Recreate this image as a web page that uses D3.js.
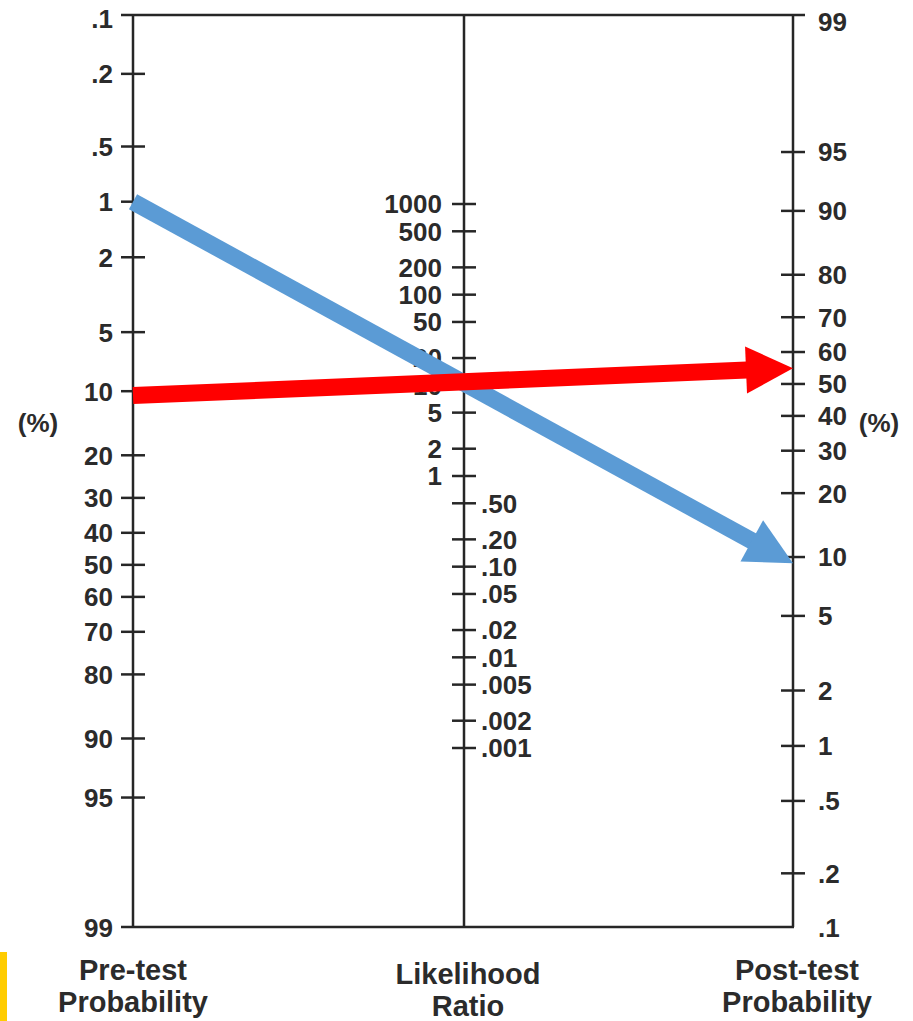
<!DOCTYPE html>
<html>
<head>
<meta charset="utf-8">
<script src="https://cdn.jsdelivr.net/npm/d3@7"></script>
<style>
  body { margin: 0; background: #fff; }
  svg text { font-family: "Liberation Sans", Arial, sans-serif; font-weight: bold; fill: #2b2b2b; }
</style>
</head>
<body>
<div id="nomogram"></div>
<script>
// probability scales (percent)
const preTestTicks = [0.1, 0.2, 0.5, 1, 2, 5, 10, 20, 30, 40, 50, 60, 70, 80, 90, 95, 99];
const postTestTicks = [99, 95, 90, 80, 70, 60, 50, 40, 30, 20, 10, 5, 2, 1, 0.5, 0.2, 0.1];
// likelihood ratio scale
const lrTicksHigh = [1000, 500, 200, 100, 50, 20, 10, 5, 2, 1];
const lrTicksLow = [0.5, 0.2, 0.1, 0.05, 0.02, 0.01, 0.005, 0.002, 0.001];
const lrLabelsLow = [".50", ".20", ".10", ".05", ".02", ".01", ".005", ".002", ".001"];

// the two example lines (blue drawn first, red on top)
const arrowNames = ["blue", "red"];
const arrowPre = [1, 10.5];
const arrowPost = [9.3, 55];
const arrowColors = ["#5b9bd5", "#ff0000"];

const W = 913, H = 1021;
const yTop = 15, yBottom = 927;
const xLeft = 133, xMid = 464, xRight = 793;
const ink = "#262626";
const tickFont = "26px";

const logit = p => Math.log(p / (100 - p));
const probLabel = v => v < 1 ? String(v).replace(/^0/, "") : String(v);

let yPre = d3.scaleLinear().domain([logit(0.1), logit(99)]).range([19, 928]);
let yPost = d3.scaleLinear().domain([logit(99), logit(0.1)]).range([22, 928]);
let yLR = d3.scaleLog().domain([1000, 0.001]).range([204, 748]);

let svg = d3.select("#nomogram")
    .append("svg")
    .attr("width", W)
    .attr("height", H);

// yellow strip bottom-left
svg.append("rect")
    .attr("x", 0).attr("y", 952)
    .attr("width", 7).attr("height", H - 952)
    .attr("fill", "#ffcc00");

// frame and axis lines
let frame = svg.append("g").attr("stroke", ink).attr("stroke-width", 2.5).attr("fill", "none");
frame.append("line").attr("x1", xLeft - 12).attr("x2", xRight + 12).attr("y1", yTop).attr("y2", yTop);
frame.append("line").attr("x1", xLeft - 12).attr("x2", xRight + 1).attr("y1", yBottom).attr("y2", yBottom);
[xLeft, xMid, xRight].forEach(x => {
    frame.append("line").attr("x1", x).attr("x2", x).attr("y1", yTop).attr("y2", yBottom);
});

//Draw one probability axis
function probAxis(ticks, scale, x, side) {
    let g = svg.append("g");
    let inner = ticks.slice(1, ticks.length - 1);
    g.selectAll("line.tick")
        .data(inner)
        .enter()
        .append("line")
        .attr("class", "tick")
        .attr("x1", x - 12)
        .attr("x2", x + 12)
        .attr("y1", d => scale(logit(d)))
        .attr("y2", d => scale(logit(d)))
        .attr("stroke", ink)
        .attr("stroke-width", 2.5);
    g.selectAll("text")
        .data(ticks)
        .enter()
        .append("text")
        .attr("x", side === "left" ? x - 20 : x + 25)
        .attr("y", d => scale(logit(d)))
        .attr("dy", "0.36em")
        .attr("text-anchor", side === "left" ? "end" : "start")
        .style("font-size", tickFont)
        .text(probLabel);
}
probAxis(preTestTicks, yPre, xLeft, "left");
probAxis(postTestTicks, yPost, xRight, "right");

// likelihood ratio axis
let lr = svg.append("g");
lr.selectAll("line")
    .data(lrTicksHigh.concat(lrTicksLow))
    .enter()
    .append("line")
    .attr("x1", xMid - 12)
    .attr("x2", xMid + 12)
    .attr("y1", d => yLR(d))
    .attr("y2", d => yLR(d))
    .attr("stroke", ink)
    .attr("stroke-width", 2.5);
lr.selectAll("text.high")
    .data(lrTicksHigh)
    .enter()
    .append("text")
    .attr("class", "high")
    .attr("x", xMid - 22)
    .attr("y", d => yLR(d))
    .attr("dy", "0.36em")
    .attr("text-anchor", "end")
    .style("font-size", tickFont)
    .text(d => d);
lr.selectAll("text.low")
    .data(lrTicksLow)
    .enter()
    .append("text")
    .attr("class", "low")
    .attr("x", xMid + 17)
    .attr("y", d => yLR(d))
    .attr("dy", "0.36em")
    .attr("text-anchor", "start")
    .style("font-size", tickFont)
    .text((d, i) => lrLabelsLow[i]);

// (%) labels
svg.append("text").attr("x", 38).attr("y", 423).attr("dy", "0.36em")
    .attr("text-anchor", "middle").style("font-size", tickFont).text("(%)");
svg.append("text").attr("x", 879).attr("y", 423).attr("dy", "0.36em")
    .attr("text-anchor", "middle").style("font-size", tickFont).text("(%)");

// axis titles
const titles = [
    { x: xLeft, lines: ["Pre-test", "Probability"], y: 980 },
    { x: xMid + 4, lines: ["Likelihood", "Ratio"], y: 984 },
    { x: xRight + 4, lines: ["Post-test", "Probability"], y: 980 }
];
titles.forEach(t => {
    t.lines.forEach((s, i) => {
        svg.append("text")
            .attr("x", t.x)
            .attr("y", t.y + i * 32)
            .attr("text-anchor", "middle")
            .style("font-size", "29px")
            .text(s);
    });
});

// arrows
const headLen = 47, headHalf = 23.5;
arrowNames.forEach((name, i) => {
    let x0 = xLeft, y0 = yPre(logit(arrowPre[i]));
    let x1 = xRight, y1 = yPost(logit(arrowPost[i]));
    let len = Math.hypot(x1 - x0, y1 - y0);
    let ux = (x1 - x0) / len, uy = (y1 - y0) / len;
    let bx = x1 - ux * headLen, by = y1 - uy * headLen;
    let g = svg.append("g").attr("class", "arrow-" + name);
    g.append("line")
        .attr("x1", x0).attr("y1", y0)
        .attr("x2", bx + ux).attr("y2", by + uy)
        .attr("stroke", arrowColors[i])
        .attr("stroke-width", 17)
        .attr("stroke-linecap", "butt");
    g.append("polygon")
        .attr("points", [
            [x1, y1],
            [bx - uy * headHalf, by + ux * headHalf],
            [bx + uy * headHalf, by - ux * headHalf]
        ].map(p => p.join(",")).join(" "))
        .attr("fill", arrowColors[i]);
});
</script>
</body>
</html>
